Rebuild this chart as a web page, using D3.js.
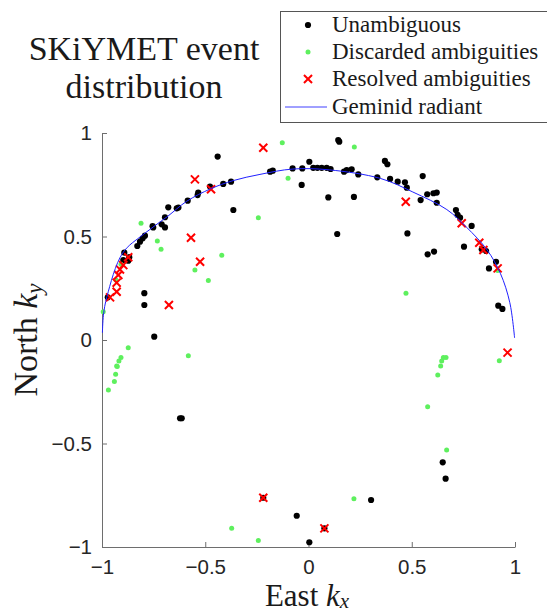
<!DOCTYPE html>
<html>
<head>
<meta charset="utf-8">
<script src="https://cdn.jsdelivr.net/npm/d3@7"></script>
<style>
  body { margin: 0; background: #fff; }
  svg { display: block; }
</style>
</head>
<body>
<div id="chart"></div>
<script>
// data, [kx, ky]
var unambiguous = [
  [-0.972,0.206],[-0.892,0.422],[-0.897,0.386],[-0.873,0.383],[-0.868,0.40],[-0.829,0.454],
  [-0.816,0.475],[-0.803,0.491],[-0.792,0.504],[-0.795,0.226],[-0.795,0.169],[-0.752,0.544],
  [-0.755,0.55],[-0.711,0.559],[-0.695,0.544],[-0.695,0.593],[-0.679,0.641],[-0.638,0.636],
  [-0.630,0.640],[-0.585,0.673],[-0.537,0.700],[-0.534,0.712],[-0.477,0.741],[-0.44,0.886],
  [-0.413,0.754],[-0.375,0.765],[-0.364,0.628],[-0.747,0.016],
  [-0.186,0.813],[-0.173,0.818],[-0.077,0.829],[-0.030,0.829],[-0.033,0.749],[0.004,0.861],
  [0.023,0.832],[0.043,0.832],[0.064,0.832],[0.088,0.832],[0.107,0.826],[0.096,0.689],
  [0.144,0.966],[0.149,0.958],[0.139,0.512],[0.172,0.813],[0.185,0.821],[0.209,0.825],
  [0.220,0.691],[0.241,0.800],[0.333,0.786],[0.370,0.865],[0.382,0.849],[0.395,0.778],
  [0.432,0.765],[0.467,0.762],[0.476,0.736],[0.553,0.792],[0.543,0.676],[0.575,0.704],
  [0.605,0.709],[0.621,0.712],[0.621,0.663],[0.479,0.515],[0.577,0.414],[0.608,0.427],
  [0.714,0.628],[0.722,0.604],[0.734,0.591],[0.790,0.551],[0.753,0.451],[0.839,0.438],
  [0.860,0.430],[0.908,0.378],[0.874,0.346],[0.919,0.166],[0.939,0.150],
  [-0.622,-0.378],[-0.614,-0.378],[-0.219,-0.762],[-0.057,-0.849],[0.650,-0.591],
  [0.664,-0.670],[0.303,-0.773],[0.004,-0.977],[0.077,-0.910]
];

var discarded = [
  [-0.994,0.137],[-0.932,0.29],[-0.908,0.366],[-0.811,0.564],[-0.732,0.478],[-0.714,0.438],
  [-0.550,0.338],[-0.485,0.287],[-0.42,0.41],[-0.243,0.591],[-0.127,0.953],[-0.099,0.781],
  [0.222,0.932],[0.472,0.226],[0.916,0.336],
  [-0.873,-0.037],[-0.908,-0.084],[-0.918,-0.101],[-0.929,-0.126],[-0.926,-0.128],
  [-0.934,-0.166],[-0.940,-0.201],[-0.969,-0.242],[-0.582,-0.076],[-0.372,-0.910],
  [-0.243,-0.969],[0.653,-0.084],[0.666,-0.085],[0.645,-0.101],[0.640,-0.126],
  [0.626,-0.169],[0.577,-0.322],[0.669,-0.531],[0.924,-0.100],[0.220,-0.767]
];

var resolved = [
  [-0.961,0.206],[-0.929,0.233],[-0.929,0.277],[-0.921,0.314],[-0.913,0.341],[-0.897,0.362],
  [-0.873,0.40],[-0.676,0.169],[-0.569,0.494],[-0.525,0.378],[-0.550,0.776],[-0.472,0.728],
  [-0.219,0.929],[0.471,0.668],[0.742,0.564],[0.827,0.470],[0.847,0.435],[0.916,0.346],
  [0.964,-0.061],[-0.219,-0.762],[0.077,-0.910]
];

// Geminid radiant track, points picked along the drawn curve
var radiant = [
  [-0.998,0.035],[-0.993,0.12],[-0.976,0.21],[-0.90,0.42],[-0.80,0.51],[-0.685,0.595],
  [-0.59,0.67],[-0.475,0.73],[-0.365,0.77],[-0.235,0.80],[-0.075,0.826],[0.10,0.822],
  [0.35,0.78],[0.505,0.715],[0.67,0.63],[0.765,0.545],[0.865,0.435],[0.93,0.32],
  [0.975,0.18],[0.998,0.01]
];

var xTicks = [-1, -0.5, 0, 0.5, 1];
var yTicks = [-1, -0.5, 0, 0.5, 1];
var legendLabels = ["Unambiguous", "Discarded ambiguities", "Resolved ambiguities", "Geminid radiant"];

var W = 547, H = 613;
var margin = {top: 133, right: 32, bottom: 66, left: 102};

var svg = d3.select("#chart").append("svg")
  .attr("width", W)
  .attr("height", H);

var x = d3.scaleLinear().domain([-1, 1]).range([margin.left, W - margin.right]);
var y = d3.scaleLinear().domain([-1, 1]).range([H - margin.bottom, margin.top]);

var axisColor = "#6e6e6e";
var tickFont = "'Liberation Sans', Arial, sans-serif";
var serif = "'Liberation Serif', 'Times New Roman', serif";

// x axis (ticks point inward)
var gx = svg.append("g")
  .attr("transform", "translate(0," + y(-1) + ")")
  .call(d3.axisBottom(x).tickValues(xTicks).tickSizeInner(-5).tickSizeOuter(0).tickPadding(12)
    .tickFormat(d3.format("")));
gx.select(".domain").attr("stroke", axisColor);
gx.selectAll(".tick line").attr("stroke", axisColor);
gx.selectAll(".tick text")
  .attr("fill", "#262626")
  .style("font-family", tickFont)
  .style("font-size", "20.5px");

// y axis
var gy = svg.append("g")
  .attr("transform", "translate(" + x(-1) + ",0)")
  .call(d3.axisLeft(y).tickValues(yTicks).tickSizeInner(-5).tickSizeOuter(0).tickPadding(10)
    .tickFormat(d3.format("")));
gy.select(".domain").attr("stroke", axisColor);
gy.selectAll(".tick line").attr("stroke", axisColor);
gy.selectAll(".tick text")
  .attr("fill", "#262626")
  .style("font-family", tickFont)
  .style("font-size", "20.5px");

// points
var plot = svg.append("g");

plot.selectAll("circle.unamb")
  .data(unambiguous)
  .enter().append("circle")
    .attr("class", "unamb")
    .attr("cx", d => x(d[0]))
    .attr("cy", d => y(d[1]))
    .attr("r", 3.1)
    .attr("fill", "#000");

plot.selectAll("circle.disc")
  .data(discarded)
  .enter().append("circle")
    .attr("class", "disc")
    .attr("cx", d => x(d[0]))
    .attr("cy", d => y(d[1]))
    .attr("r", 2.5)
    .attr("fill", "#5ef05e");

// symbolTimes is a stroked symbol
var cross = d3.symbol().type(d3.symbolTimes).size(44);
plot.selectAll("path.res")
  .data(resolved)
  .enter().append("path")
    .attr("class", "res")
    .attr("d", cross)
    .attr("transform", d => "translate(" + x(d[0]) + "," + y(d[1]) + ")")
    .attr("fill", "none")
    .attr("stroke", "#ff0000")
    .attr("stroke-width", 2);

var line = d3.line()
  .x(d => x(d[0]))
  .y(d => y(d[1]))
  .curve(d3.curveCatmullRom);

plot.append("path")
  .datum(radiant)
  .attr("d", line)
  .attr("fill", "none")
  .attr("stroke", "#2020ff")
  .attr("stroke-width", 1);

// title
var title = svg.append("text")
  .attr("text-anchor", "middle")
  .style("font-family", serif)
  .style("font-size", "34px")
  .attr("fill", "#1a1a1a");
title.append("tspan").attr("x", 144).attr("y", 60).text("SKiYMET event");
title.append("tspan").attr("x", 144).attr("y", 98).text("distribution");

// axis labels
var xl = svg.append("text")
  .attr("x", 307)
  .attr("y", 606)
  .attr("text-anchor", "middle")
  .style("font-family", serif)
  .style("font-size", "31px")
  .attr("fill", "#1a1a1a");
xl.append("tspan").text("East ");
xl.append("tspan").style("font-style", "italic").text("k");
xl.append("tspan").style("font-style", "italic").style("font-size", "21px").attr("dy", 2).text("x");

var yl = svg.append("text")
  .attr("transform", "translate(37,340) rotate(-90)")
  .attr("text-anchor", "middle")
  .style("font-family", serif)
  .style("font-size", "34px")
  .attr("fill", "#1a1a1a");
yl.append("tspan").text("North ");
yl.append("tspan").style("font-style", "italic").text("k");
yl.append("tspan").style("font-style", "italic").style("font-size", "23px").attr("dy", 5).text("y");

// legend
var legend = svg.append("g");
legend.append("rect")
  .attr("x", 280.5)
  .attr("y", 11.5)
  .attr("width", 280)
  .attr("height", 111)
  .attr("fill", "#fff")
  .attr("stroke", "#555")
  .attr("stroke-width", 1);

var rowY = [25, 52, 79, 107];
legend.append("circle").attr("cx", 308).attr("cy", rowY[0]).attr("r", 3.1).attr("fill", "#000");
legend.append("circle").attr("cx", 308).attr("cy", rowY[1]).attr("r", 2.5).attr("fill", "#5ef05e");
legend.append("path").attr("d", cross).attr("transform", "translate(308," + rowY[2] + ")")
  .attr("fill", "none").attr("stroke", "#ff0000").attr("stroke-width", 2);
legend.append("line").attr("x1", 285).attr("x2", 327).attr("y1", rowY[3]).attr("y2", rowY[3])
  .attr("stroke", "#4040ff").attr("stroke-width", 1);

legend.selectAll("text.lab")
  .data(legendLabels)
  .enter().append("text")
    .attr("class", "lab")
    .attr("x", 332)
    .attr("y", (d, i) => rowY[i] + 7)
    .style("font-family", serif)
    .style("font-size", "23px")
    .attr("fill", "#1a1a1a")
    .text(d => d);
</script>
</body>
</html>
